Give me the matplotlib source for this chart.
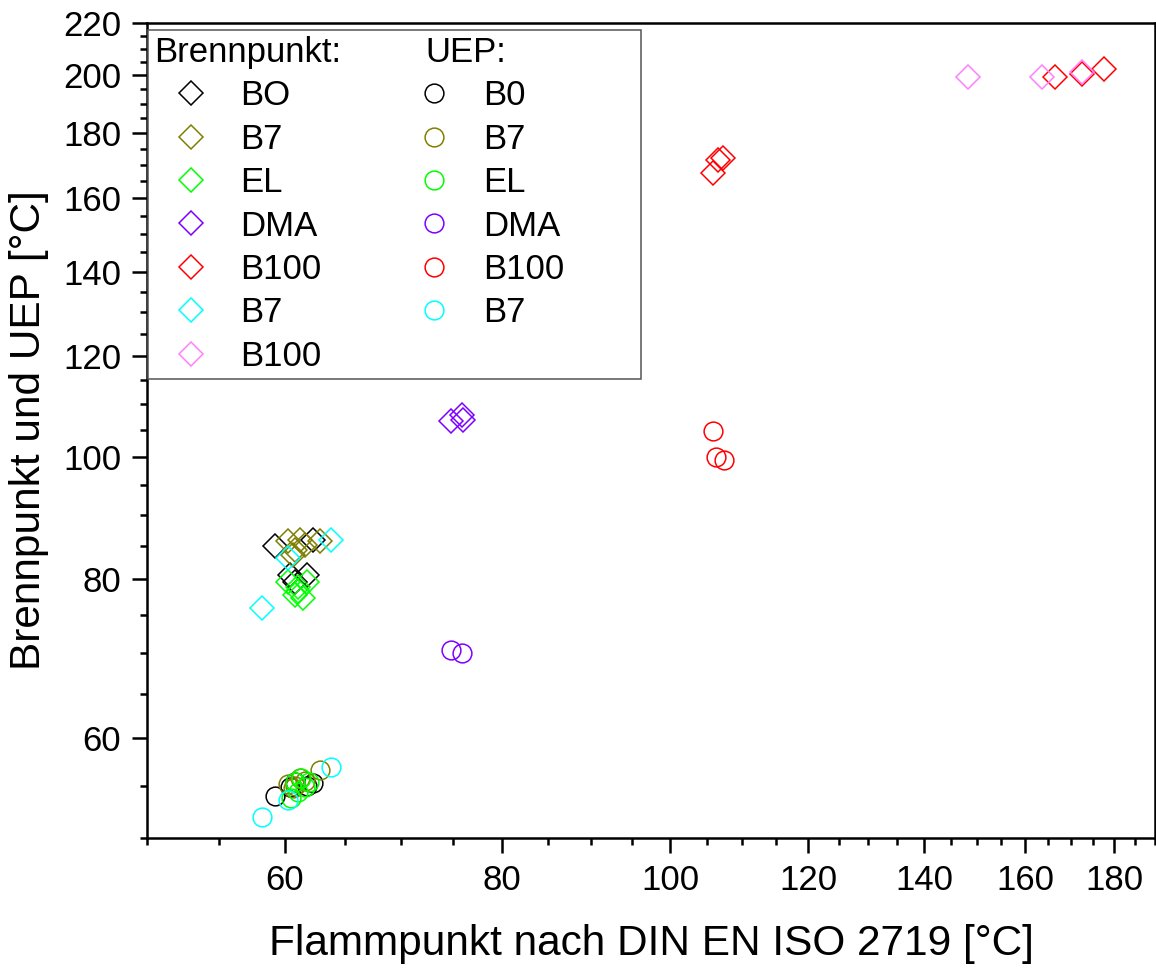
import numpy as np
import matplotlib
matplotlib.use("Agg")
import matplotlib.pyplot as plt
from matplotlib.lines import Line2D
from matplotlib.offsetbox import DrawingArea
from matplotlib.ticker import FixedLocator, NullFormatter, FixedFormatter

plt.rcParams['font.family'] = ['Liberation Sans', 'DejaVu Sans']

# ---- data (Flammpunkt x, Brennpunkt y, UEP y) ----
b0_x = [59.2, 60.4, 60.8, 61.8, 62.3]
b0_bp = [85.0, 80.7, 79.6, 80.7, 86.0]
b0_uep = [54.0, 54.9, 55.4, 55.0, 55.3]

b7_x = [60.3, 61.2, 61.6, 60.8, 60.7, 62.9]
b7_bp = [85.8, 86.0, 85.2, 84.4, 83.6, 85.8]
b7_uep = [55.2, 55.8, 55.5, 55.0, 54.8, 56.6]

el_x = [60.3, 61.1, 61.8, 60.8, 61.5, 61.1]
el_bp = [79.6, 78.9, 79.6, 77.8, 77.3, 78.3]
el_uep_x = [60.5, 61.1, 61.6, 60.8, 62.0, 61.3]
el_uep = [53.8, 54.4, 54.9, 55.4, 55.4, 55.8]

dma_x = [74.8, 75.9, 76.0]
dma_bp = [106.8, 107.9, 106.9]
dma_uep_x = [74.8, 75.9]
dma_uep = [70.4, 70.0]

b100_x = [105.8, 106.5, 107.2, 166.4, 172.5, 177.5]
b100_bp = [167.5, 171.5, 172.2, 199.4, 200.6, 202.2]
b100_uep_x = [105.8, 106.2, 107.3]
b100_uep = [104.8, 99.9, 99.4]

b7c_x = [58.2, 60.3, 63.8]
b7c_bp = [75.9, 83.2, 86.0]
b7c_uep = [51.9, 53.6, 56.9]

b100p_x = [148.3, 163.5, 172.5]
b100p_bp = [199.4, 199.4, 201.4]

bp_labels = ["BO", "B7", "EL", "DMA", "B100", "B7", "B100"]
uep_labels = ["B0", "B7", "EL", "DMA", "B100", "B7"]
colors = ["#000000", "#808000", "#00FF00", "#8000FF", "#FF0000", "#00FFFF", "#FF80FF"]

x_major = [60, 80, 100, 120, 140, 160, 180]
y_major = [60, 80, 100, 120, 140, 160, 180, 200, 220]

fig = plt.figure(figsize=(11.56, 9.72), dpi=100)
ax = fig.add_axes([147/1156, 1-838/972, 1008/1156, 815/972])
ax.set_xscale('log')
ax.set_yscale('log')

dms = 12.0
cms = 13.5
mew = 1.1

bp_sets = [(b0_x, b0_bp), (b7_x, b7_bp), (el_x, el_bp), (dma_x, dma_bp),
           (b100_x, b100_bp), (b7c_x, b7c_bp), (b100p_x, b100p_bp)]
uep_sets = [(b0_x, b0_uep), (b7_x, b7_uep), (el_uep_x, el_uep), (dma_uep_x, dma_uep),
            (b100_uep_x, b100_uep), (b7c_x, b7c_uep)]

bp_handles = []
for (xs, ys), c, lab in zip(bp_sets, colors, bp_labels):
    h, = ax.plot(xs, ys, linestyle='none', marker='D', ms=dms, mfc='none',
                 mec=c, mew=mew, label=lab)
    bp_handles.append(h)
uep_handles = []
for (xs, ys), c, lab in zip(uep_sets, colors, uep_labels):
    h, = ax.plot(xs, ys, linestyle='none', marker='o', ms=cms, mfc='none',
                 mec=c, mew=mew, label=lab)
    uep_handles.append(h)

ax.set_xlim(50, 190)
ax.set_ylim(50, 220)

ax.xaxis.set_major_locator(FixedLocator(x_major))
ax.xaxis.set_major_formatter(FixedFormatter([str(v) for v in x_major]))
ax.xaxis.set_minor_locator(FixedLocator([v for v in range(50, 195, 5) if v not in x_major]))
ax.xaxis.set_minor_formatter(NullFormatter())
ax.yaxis.set_major_locator(FixedLocator(y_major))
ax.yaxis.set_major_formatter(FixedFormatter([str(v) for v in y_major]))
ax.yaxis.set_minor_locator(FixedLocator([v for v in range(50, 220, 5) if v not in y_major]))
ax.yaxis.set_minor_formatter(NullFormatter())

for s in ax.spines.values():
    s.set_linewidth(1.8)
ax.tick_params(which='major', direction='out', length=10.5, width=1.8,
               labelsize=25, pad=8)
ax.tick_params(which='minor', direction='out', length=5, width=1.8)
ax.tick_params(axis='y', which='major', pad=8)

ax.set_xlabel("Flammpunkt nach DIN EN ISO 2719 [°C]", fontsize=30.5, labelpad=20)
ax.set_ylabel("Brennpunkt und UEP [°C]", fontsize=30.5, labelpad=10)

hdr1 = Line2D([], [], linestyle='none', label="Brennpunkt:")
hdr2 = Line2D([], [], linestyle='none', label="UEP:")
blank = Line2D([], [], linestyle='none', label=" ")
handles = [hdr1] + bp_handles + [hdr2] + uep_handles + [blank]
leg = ax.legend(handles=handles, ncol=2, loc='upper left',
                bbox_to_anchor=(0.001, 0.9914), borderaxespad=0,
                fontsize=25, frameon=True, fancybox=False, framealpha=1,
                edgecolor='#555555', handlelength=2.13, handletextpad=0.35,
                columnspacing=1.61, labelspacing=0.3, borderpad=0.17)
leg.get_frame().set_linewidth(1.1)

cols = leg._legend_handle_box.get_children()
row1 = cols[0].get_children()[0]
ch = row1.get_children()
del ch[0]
row2 = cols[1].get_children()[0]
ch2 = row2.get_children()
ch2[0].width = 11.5
ch2.append(DrawingArea(width=84.5, height=1))

fig.savefig("out.png", dpi=100)
